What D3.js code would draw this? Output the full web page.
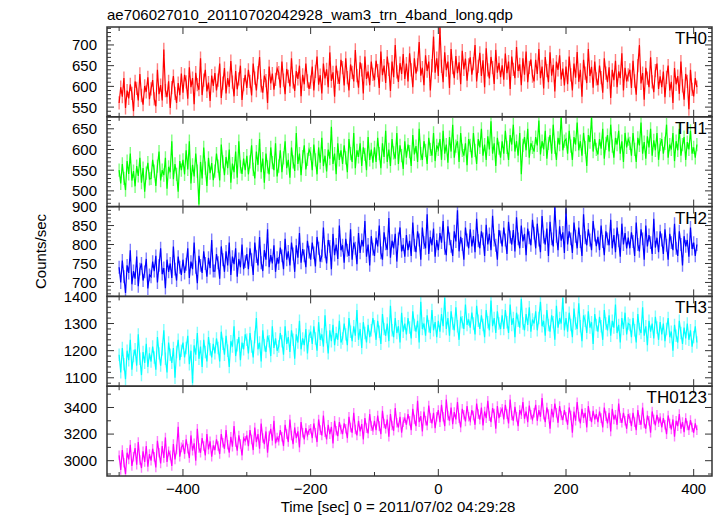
<!DOCTYPE html>
<html><head><meta charset="utf-8">
<script src="https://cdn.jsdelivr.net/npm/d3@7"></script>
<style>
html,body{margin:0;padding:0;background:#fff;}
svg text{font-family:"Liberation Sans",Arial,Helvetica,sans-serif;fill:#000;}
</style></head>
<body><svg id="chart" width="719" height="516"></svg>
<script>
// ---- data ----
const title = "ae706027010_20110702042928_wam3_trn_4band_long.qdp";
const xLabel = "Time [sec] 0 = 2011/07/02 04:29:28";
const yLabel = "Counts/sec";
const bandNames = ["TH0", "TH1", "TH2", "TH3", "TH0123"];
const bandColors = ["#ff0000", "#00ff00", "#0000ff", "#00ffff", "#ff00ff"];
const binStart = -500, binSize = 2.5;   // time bins [sec]
const xTicks = [-400, -200, 0, 200, 400];
const yTickValues = [[550, 600, 650, 700], [500, 550, 600, 650], [700, 750, 800, 850, 900], [1100, 1200, 1300, 1400], [3000, 3200, 3400]];
const yDomains = [[526.6, 743.3], [462, 679], [663.2, 900], [1069, 1400], [2885, 3560]];
const yMinorSteps = [10, 10, 10, 20, 100];
const errorBars = [16, 16, 17, 23, 36];

const th0 = [
 560,598,575,620,548,590,571,605,583,540,612,595,566,630,578,556,601,587,622,569,
 594,615,570,552,640,581,603,566,689,590,574,612,548,597,625,583,560,608,579,631,
 585,628,611,570,646,598,620,557,633,604,592,668,579,615,640,588,609,565,626,601,
 632,590,615,655,572,608,644,583,620,599,661,610,576,637,593,618,650,567,604,628,
 596,640,612,578,655,620,590,633,671,601,585,626,614,560,648,607,631,592,617,643,
 633,597,660,615,581,642,624,600,668,611,589,637,618,650,576,628,605,655,613,594,
 610,648,590,636,672,604,627,583,655,619,641,598,682,613,634,575,650,622,606,664,
 645,602,668,621,590,653,634,612,688,626,597,658,640,583,672,618,636,603,660,629,
 615,662,638,596,684,627,650,608,672,641,589,660,622,700,635,611,656,630,678,618,
 655,612,680,640,598,668,631,652,707,626,645,603,675,637,660,590,650,720,633,668,
 625,744,648,610,682,639,660,596,690,645,620,673,632,658,605,686,641,667,614,652,
 670,628,655,700,612,648,681,625,663,598,692,640,619,671,645,606,688,633,657,622,
 651,616,679,632,660,594,672,641,620,695,637,653,603,668,628,684,610,646,665,625,
 612,664,630,690,620,648,595,671,638,610,682,626,652,588,660,640,675,617,643,602,
 648,605,672,628,590,655,621,683,611,640,575,664,632,608,690,625,647,597,660,618,
 603,650,621,585,668,632,610,646,572,640,615,662,598,636,620,680,590,645,612,628,
 640,596,662,613,580,650,700,607,632,568,645,620,598,670,611,586,638,655,594,624,
 598,636,574,622,650,590,611,560,644,605,625,582,660,601,568,630,612,545,640,593,
 576,620,598];
const th1 = [
 550,518,565,530,502,572,541,590,525,548,511,560,536,580,520,555,498,543,568,529,
 530,575,548,512,560,595,525,550,538,580,505,558,545,620,528,565,540,498,572,550,
 575,540,598,552,620,518,563,535,590,548,467,570,530,605,555,512,580,543,567,526,
 548,590,560,525,612,570,538,582,555,600,520,566,545,595,532,620,558,541,578,550,
 585,540,570,610,552,530,595,563,625,545,578,520,590,558,540,605,568,550,615,535,
 560,598,545,580,620,555,575,532,605,570,548,640,565,590,538,583,610,552,576,600,
 590,550,612,575,540,605,568,628,560,585,547,600,578,655,565,590,540,615,575,598,
 565,610,580,545,625,590,570,640,555,598,582,615,560,605,588,550,630,575,600,568,
 605,570,628,590,555,615,582,645,570,600,560,625,592,578,640,565,610,585,553,620,
 580,612,595,560,635,588,608,570,650,590,575,620,598,565,628,600,585,640,572,610,
 600,625,575,645,590,612,568,630,595,660,580,608,620,570,640,598,585,615,562,625,
 610,580,640,598,565,625,605,650,585,612,575,632,600,668,590,615,560,628,603,580,
 620,590,645,605,575,635,612,660,595,620,585,640,540,610,630,598,650,580,615,605,
 595,630,610,670,588,620,600,645,578,615,635,590,660,605,575,628,612,680,598,620,
 625,590,645,608,575,630,612,665,598,620,585,640,605,560,635,618,678,595,625,600,
 588,625,602,650,578,615,635,595,660,608,580,628,612,645,590,620,570,640,605,625,
 615,585,640,600,570,628,610,665,590,618,578,632,605,650,585,622,598,640,575,612,
 625,590,615,660,580,612,600,640,572,620,598,650,585,612,630,575,618,600,645,590,
 605,580,612];
const th2 = [
 740,700,758,715,672,745,725,785,695,730,710,768,690,735,750,705,728,762,684,720,
 715,755,730,770,700,745,790,722,738,685,760,728,750,712,795,735,705,768,740,720,
 760,725,748,790,712,755,735,805,740,698,770,745,725,782,750,715,765,738,812,730,
 730,775,752,710,795,760,728,782,745,805,720,768,748,790,715,762,740,800,735,755,
 775,735,790,760,720,805,768,745,820,752,730,785,760,840,740,772,750,798,728,765,
 750,792,770,735,815,760,782,745,805,775,728,798,765,830,752,788,770,740,810,780,
 760,805,778,742,820,790,755,770,845,781,750,812,795,735,828,772,800,762,850,785,
 798,752,815,785,770,840,760,805,790,748,830,778,812,795,862,768,800,745,822,788,
 770,818,795,850,778,760,832,802,786,870,765,810,790,828,755,815,845,782,800,768,
 825,785,810,770,858,798,780,835,812,760,845,805,790,880,775,820,798,842,768,812,
 785,830,805,862,790,772,848,815,795,770,835,808,890,782,820,800,760,845,812,790,
 840,795,822,780,868,810,790,835,815,770,852,800,828,785,876,812,798,760,838,820,
 795,845,812,775,860,820,800,838,782,872,815,790,850,808,828,772,842,818,798,865,
 830,790,855,812,780,875,820,800,842,770,860,815,795,900,822,785,848,810,832,778,
 895,800,835,815,778,858,822,790,845,808,770,880,818,798,840,812,785,862,825,796,
 820,785,850,808,772,835,815,798,865,790,825,780,845,810,768,855,800,830,790,818,
 790,832,808,770,858,800,782,840,815,760,850,795,825,805,775,868,792,818,780,835,
 812,775,840,798,760,828,805,785,855,790,770,835,800,745,822,795,812,768,845,788,
 805,770,800];
const th3 = [
 1185,1120,1210,1150,1095,1200,1165,1240,1130,1180,1205,1145,1260,1170,1110,1195,1155,1225,1140,1190,
 1160,1215,1175,1130,1250,1190,1145,1205,1275,1170,1120,1230,1185,1155,1210,1100,1195,1240,1165,1200,
 1230,1175,1210,1255,1150,1200,1080,1220,1185,1265,1170,1215,1140,1240,1195,1160,1250,1205,1175,1225,
 1190,1245,1210,1160,1270,1225,1185,1255,1200,1140,1235,1215,1290,1180,1220,1250,1165,1230,1205,1260,
 1240,1190,1265,1215,1175,1250,1320,1205,1230,1160,1275,1220,1195,1255,1235,1180,1290,1210,1245,1200,
 1215,1265,1235,1185,1290,1225,1250,1195,1275,1240,1170,1260,1230,1310,1205,1245,1220,1280,1190,1255,
 1270,1225,1290,1245,1200,1305,1240,1260,1215,1330,1250,1190,1275,1235,1295,1220,1265,1240,1310,1230,
 1245,1300,1260,1220,1320,1270,1235,1290,1255,1350,1240,1280,1210,1305,1265,1230,1295,1250,1275,1320,
 1290,1240,1310,1270,1225,1335,1280,1255,1300,1235,1365,1275,1250,1320,1265,1290,1230,1340,1270,1300,
 1260,1320,1285,1245,1345,1295,1270,1310,1230,1380,1280,1300,1255,1330,1290,1265,1350,1275,1305,1250,
 1310,1270,1335,1290,1395,1280,1320,1255,1345,1300,1275,1360,1290,1240,1325,1305,1280,1370,1295,1315,
 1285,1340,1300,1260,1365,1310,1280,1330,1295,1250,1350,1305,1275,1385,1290,1320,1265,1345,1300,1280,
 1330,1280,1350,1305,1265,1370,1295,1320,1250,1340,1310,1285,1390,1300,1275,1335,1295,1360,1270,1315,
 1300,1345,1275,1320,1380,1290,1310,1255,1350,1295,1270,1330,1305,1240,1365,1285,1320,1300,1395,1275,
 1320,1270,1340,1295,1250,1355,1300,1280,1375,1290,1235,1330,1310,1265,1345,1285,1305,1225,1335,1295,
 1270,1325,1290,1240,1350,1300,1275,1330,1255,1310,1285,1370,1265,1295,1230,1320,1280,1340,1260,1300,
 1295,1250,1320,1275,1230,1335,1280,1265,1360,1255,1290,1220,1310,1270,1300,1245,1325,1285,1240,1305,
 1260,1300,1235,1280,1320,1250,1270,1200,1295,1255,1230,1310,1265,1225,1285,1245,1300,1240,1275,1215,
 1250,1290,1230];
const th0123 = [
 3040,2930,3080,2985,2900,3060,3010,3120,2960,3030,3095,2970,3140,3005,2945,3070,2990,3110,2955,3050,
 3000,3090,3030,2950,3150,3060,2980,3110,3020,3175,2990,3070,3040,2960,3125,3010,3085,3255,3030,3100,
 3120,3050,3160,3090,3020,3190,3075,3130,3000,3240,3095,3060,3170,3110,3040,3200,3085,3145,3030,3115,
 3080,3160,3110,3050,3200,3135,3090,3230,3120,3060,3180,3105,3260,3140,3075,3190,3125,3040,3170,3150,
 3190,3110,3230,3160,3080,3250,3140,3200,3090,3280,3170,3125,3220,3060,3185,3240,3150,3300,3130,3175,
 3150,3230,3180,3110,3270,3200,3140,3310,3190,3125,3250,3170,3220,3100,3290,3210,3160,3245,3190,3230,
 3240,3170,3280,3210,3140,3310,3230,3190,3340,3215,3160,3270,3200,3255,3130,3300,3225,3185,3290,3235,
 3200,3280,3240,3170,3330,3250,3210,3360,3235,3190,3300,3220,3275,3160,3320,3245,3205,3350,3260,3230,
 3300,3230,3340,3260,3200,3375,3280,3240,3310,3180,3350,3265,3225,3395,3285,3250,3330,3210,3290,3320,
 3270,3350,3300,3230,3390,3310,3260,3450,3290,3335,3220,3370,3300,3265,3415,3320,3280,3360,3245,3330,
 3380,3290,3420,3330,3260,3460,3340,3300,3400,3275,3365,3310,3440,3320,3250,3390,3345,3295,3410,3330,
 3300,3380,3340,3270,3430,3350,3310,3400,3265,3370,3320,3450,3335,3290,3395,3355,3240,3410,3320,3365,
 3390,3310,3420,3350,3280,3460,3340,3300,3405,3330,3260,3380,3350,3440,3315,3370,3290,3415,3345,3310,
 3360,3420,3300,3380,3330,3470,3345,3290,3400,3350,3240,3390,3325,3430,3360,3285,3410,3340,3305,3380,
 3330,3270,3400,3340,3210,3370,3300,3440,3330,3280,3390,3320,3360,3250,3410,3335,3290,3375,3310,3350,
 3290,3370,3320,3250,3400,3335,3280,3360,3220,3390,3310,3345,3270,3430,3320,3285,3360,3300,3240,3350,
 3320,3260,3360,3290,3230,3380,3305,3270,3400,3280,3240,3340,3300,3210,3370,3310,3265,3345,3290,3320,
 3250,3320,3270,3200,3340,3280,3235,3310,3180,3300,3260,3350,3240,3290,3215,3320,3265,3230,3305,3250,
 3210,3280,3230];
const series = [th0, th1, th2, th3, th0123];

// ---- layout ----
const plotLeft = 107, plotRight = 712, plotTop = 27, plotBottom = 476;
const nP = series.length;
const pH = (plotBottom - plotTop) / nP;
const svg = d3.select("#chart");

const x = d3.scaleLinear().domain([-519, 428.7]).range([plotLeft, plotRight]);
const axisCol = "#333";

svg.append("text").attr("x", 107).attr("y", 20).attr("font-size", 15).text(title);

series.forEach((vals, p) => {
  const y0 = plotTop + p * pH, y1 = y0 + pH;
  const y = d3.scaleLinear().domain(yDomains[p]).range([y1, y0]);
  const g = svg.append("g");
  const clipId = "clip" + p;
  svg.append("clipPath").attr("id", clipId).append("rect")
    .attr("x", plotLeft).attr("y", y0).attr("width", plotRight - plotLeft).attr("height", pH);
  const data = vals.map((v, i) => ({t: binStart + i * binSize, v}));
  const dg = g.append("g").attr("clip-path", `url(#${clipId})`);
  const e = errorBars[p];
  dg.selectAll("line.err").data(data).enter().append("line")
    .attr("x1", d => x(d.t)).attr("x2", d => x(d.t))
    .attr("y1", d => y(d.v - e)).attr("y2", d => y(d.v + e))
    .attr("stroke", bandColors[p]).attr("stroke-opacity", 0.5).attr("stroke-width", 1.4);
  dg.append("path").datum(data)
    .attr("d", d3.line().x(d => x(d.t)).y(d => y(d.v)))
    .attr("fill", "none").attr("stroke", bandColors[p]).attr("stroke-width", 1.2);

  // y ticks (left & right, inward)
  const [dmin, dmax] = yDomains[p];
  const step = yMinorSteps[p];
  const minorVals = d3.range(Math.ceil(dmin / step) * step, dmax + 0.01, step);
  const majorStep = yTickValues[p][1] - yTickValues[p][0];
  minorVals.forEach(v => {
    const isMajor = Math.abs(v / majorStep - Math.round(v / majorStep)) < 1e-6;
    const len = isMajor ? 7 : 4;
    const yy = y(v);
    if (yy < y0 - 0.5 || yy > y1 + 0.5) return;
    g.append("line").attr("x1", plotLeft).attr("x2", plotLeft + len).attr("y1", yy).attr("y2", yy)
      .attr("stroke", axisCol).attr("stroke-width", 1);
    g.append("line").attr("x1", plotRight).attr("x2", plotRight - len).attr("y1", yy).attr("y2", yy)
      .attr("stroke", axisCol).attr("stroke-width", 1);
  });
  yTickValues[p].forEach(v => {
    g.append("text").attr("x", 97).attr("y", y(v)).attr("dy", "0.36em")
      .attr("text-anchor", "end").attr("font-size", 15).text(v);
  });

  // x ticks (top & bottom of each panel, inward)
  d3.range(-500, 401, 100).forEach(t => {
    const isMajor = t % 200 === 0;
    const len = isMajor ? 7 : 4;
    const xx = x(t);
    g.append("line").attr("x1", xx).attr("x2", xx).attr("y1", y0).attr("y2", y0 + len)
      .attr("stroke", axisCol).attr("stroke-width", 1);
    g.append("line").attr("x1", xx).attr("x2", xx).attr("y1", y1).attr("y2", y1 - len)
      .attr("stroke", axisCol).attr("stroke-width", 1);
  });

  // frame
  g.append("rect").attr("x", plotLeft).attr("y", y0).attr("width", plotRight - plotLeft).attr("height", pH)
    .attr("fill", "none").attr("stroke", axisCol).attr("stroke-width", 1.5);

  g.append("text").attr("x", 707).attr("y", y0 + 17).attr("text-anchor", "end")
    .attr("font-size", 17).text(bandNames[p]);
});

// x tick labels
xTicks.forEach(t => {
  svg.append("text").attr("x", x(t)).attr("y", 494).attr("text-anchor", "middle")
    .attr("font-size", 15).text(t < 0 ? "\u2212" + Math.abs(t) : t);
});
svg.append("text").attr("x", 398).attr("y", 512).attr("text-anchor", "middle")
  .attr("font-size", 15).text(xLabel);
svg.append("text").attr("transform", `translate(46,${(plotTop + plotBottom) / 2}) rotate(-90)`)
  .attr("text-anchor", "middle").attr("font-size", 15).text(yLabel);
</script></body></html>
